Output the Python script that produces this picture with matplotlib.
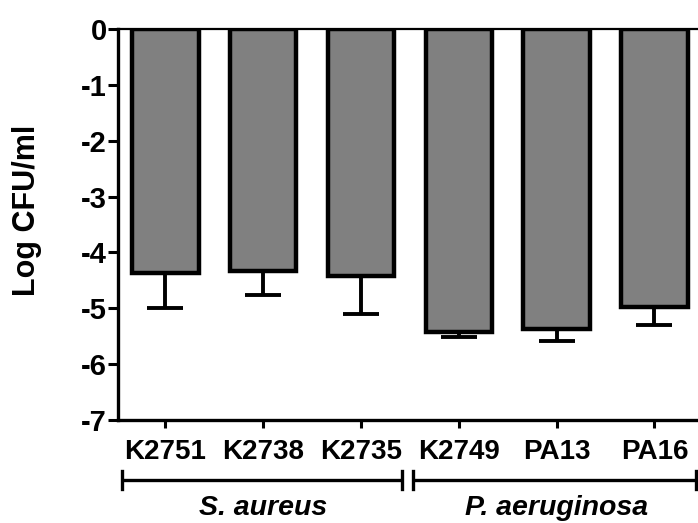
import numpy as np
import matplotlib
matplotlib.use("Agg")
import matplotlib.pyplot as plt
import matplotlib.transforms as mtransforms

plt.rcParams['font.family'] = ['Liberation Sans', 'DejaVu Sans']
plt.rcParams['font.weight'] = 'bold'

# values
strains = ['K2751', 'K2738', 'K2735', 'K2749', 'PA13', 'PA16']
log_cfu = [-4.37, -4.33, -4.42, -5.42, -5.37, -4.98]
sem = [0.62, 0.43, 0.68, 0.09, 0.21, 0.32]
groups = ['S. aureus', 'P. aeruginosa']
group_span = [(-0.445, 2.42), (2.53, 5.42)]
group_center = [1.0, 4.0]

fig = plt.figure(figsize=(6.98, 5.23), dpi=100)
ax = fig.add_axes([118 / 698, 1 - 420 / 523, 580 / 698, 391 / 523])

x = np.arange(len(strains))
ax.bar(x, log_cfu, width=0.68, color='#808080', edgecolor='black',
       linewidth=3.2, zorder=2)

# only the "away from zero" half of the error bar
yerr = [np.array(sem), np.zeros(len(sem))]
ax.errorbar(x, log_cfu, yerr=yerr, fmt='none', ecolor='black',
            elinewidth=2.8, capsize=13, capthick=2.8, zorder=1)

ax.set_xlim(-0.485, 5.445)
ax.set_ylim(-7, 0)
ax.set_yticks(range(-7, 1))
ax.set_yticklabels([str(v) for v in range(-7, 1)])
ax.set_xticks(x)
ax.set_xticklabels(strains)

ax.spines['right'].set_visible(False)
ax.spines['top'].set_linewidth(1.6)
ax.spines['left'].set_linewidth(2.4)
ax.spines['bottom'].set_linewidth(2.4)

ax.tick_params(axis='y', length=7, width=2.2, pad=1, labelsize=21)
ax.tick_params(axis='x', length=6, width=2.2, pad=8, labelsize=20)

# y label placed by its centre
fig.text(27 / 698, 1 - 210 / 523, 'Log CFU/ml', rotation=90, ha='center',
         va='center', fontsize=22, fontweight='bold')

# group brackets under the strain names
trans = mtransforms.blended_transform_factory(ax.transData, fig.transFigure)
y_line = 1 - 480 / 523
cap = 9 / 523
for (x0, x1), name, xc in zip(group_span, groups, group_center):
    ax.plot([x0, x1], [y_line, y_line], color='black', lw=2.4,
            transform=trans, clip_on=False, solid_capstyle='butt')
    for xe in (x0, x1):
        ax.plot([xe, xe], [y_line - cap, y_line + cap], color='black',
                lw=2.4, transform=trans, clip_on=False)
    ax.text(xc, 1 - 508 / 523, name, transform=trans, ha='center',
            va='center', fontsize=20.5, fontweight='bold', style='italic')

fig.savefig('out.png', dpi=100)
